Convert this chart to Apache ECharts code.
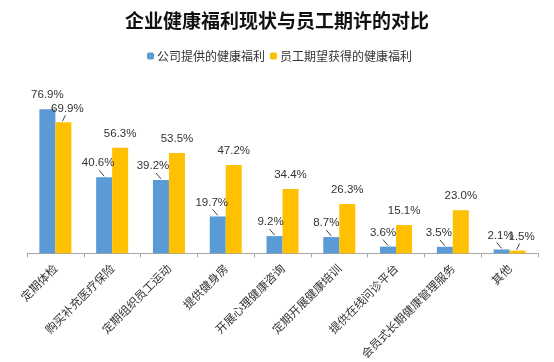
<!DOCTYPE html>
<html><head><meta charset="utf-8">
<script src="https://cdn.jsdelivr.net/npm/echarts@6/dist/echarts.min.js"></script>
<style>html,body{margin:0;padding:0;background:#fff}#c{width:554px;height:362px}</style>
</head><body><div id="c"></div>
<script>
const categories = ['定期体检','购买补充医疗保险','定期组织员工运动','提供健身房','开展心理健康咨询','定期开展健康培训','提供在线问诊平台','会员式长期健康管理服务','其他'];
const companyValues = [76.9, 40.6, 39.2, 19.7, 9.2, 8.7, 3.6, 3.5, 2.1];
const employeeValues = [69.9, 56.3, 53.5, 47.2, 34.4, 26.3, 15.1, 23.0, 1.5];
const seriesNames = ['公司提供的健康福利', '员工期望获得的健康福利'];

// label nudges (style only)
const companyDx = [0, -6, -8, -6, -4, -5, -5, -6, -1];
const employeeDx = [4, 0, 0, 0, 0, 0, 0, 0, 4];
const companyLine = [0, 1, 1, 1, 1, 1, 1, 1, 1];
const employeeLine = [1, 0, 0, 0, 0, 0, 0, 0, 1];

const BAR_W = 16;
const lineData = [];
companyValues.forEach((v, i) => { if (companyLine[i]) lineData.push([i, v, -1]); });
employeeValues.forEach((v, i) => { if (employeeLine[i]) lineData.push([i, v, 1]); });

const labelStyle = {show: true, position: 'top', distance: 8, formatter: p => p.value.toFixed(1) + '%',
  color: '#333', fontSize: 11.5, fontFamily: 'Liberation Sans, Arial, sans-serif'};

const chart = echarts.init(document.getElementById('c'), null, {renderer: 'canvas'});
chart.setOption({
  animation: false,
  title: {text: '企业健康福利现状与员工期许的对比', left: 'center', top: 6,
    textStyle: {fontSize: 19, fontWeight: 'bold', color: '#111', fontFamily: 'Noto Sans CJK SC'}},
  legend: {data: seriesNames, left: 142, top: 45, itemWidth: 7, itemHeight: 7, itemGap: 5,
    textStyle: {fontSize: 12, color: '#333', fontFamily: 'Noto Sans CJK SC', padding: [0, 0, 0, -2]}},
  grid: {left: 27, right: 16, top: 103.4, bottom: 105},
  xAxis: {type: 'category', data: categories,
    axisLine: {lineStyle: {color: '#a6a6a6'}},
    axisTick: {show: true, inside: false, length: 4, lineStyle: {color: '#a6a6a6'}},
    axisLabel: {rotate: 45, interval: 0, margin: 13, color: '#333', fontSize: 11.5, fontFamily: 'Noto Sans CJK SC'}},
  yAxis: {type: 'value', min: 0, max: 80, show: false},
  series: [
    {name: seriesNames[0], type: 'bar', data: companyValues, barWidth: BAR_W, barGap: '0%',
      itemStyle: {color: '#5B9BD5'}, label: labelStyle,
      labelLayout: p => ({dx: companyDx[p.dataIndex]})},
    {name: seriesNames[1], type: 'bar', data: employeeValues, barWidth: BAR_W, barGap: '0%',
      itemStyle: {color: '#FFC000'}, label: labelStyle,
      labelLayout: p => ({dx: employeeDx[p.dataIndex]})},
    {type: 'custom', silent: true, z: 5, data: lineData,
      renderItem: function (params, api) {
        const i = api.value(0), v = api.value(1), side = api.value(2);
        const p = api.coord([i, v]);
        const x0 = p[0] + side * BAR_W / 2 + (side < 0 ? 0 : -1);
        const ex = side < 0 ? -5 : 3;
        return {type: 'line', shape: {x1: x0, y1: p[1] - 1, x2: x0 + ex, y2: p[1] - 7},
          style: {stroke: '#404040', lineWidth: 1}};
      }}
  ]
});
</script></body></html>
